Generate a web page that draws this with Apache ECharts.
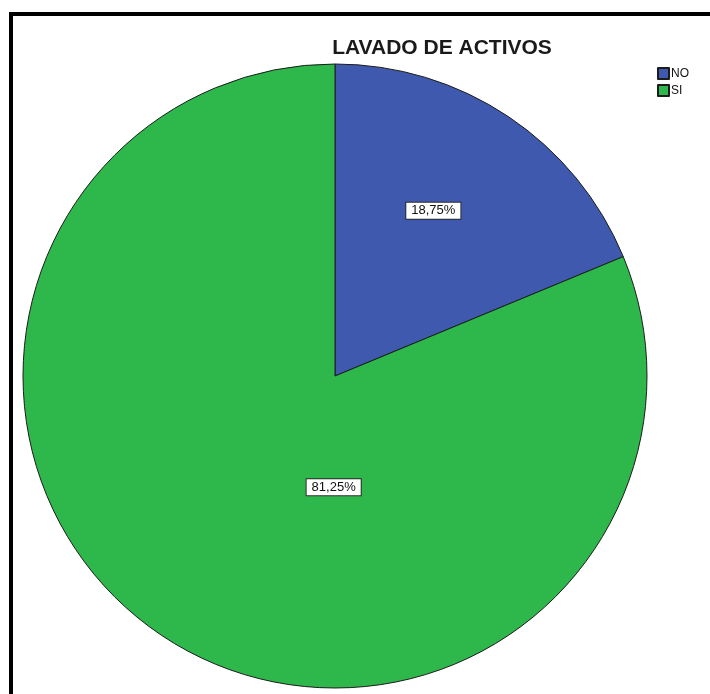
<!DOCTYPE html>
<html>
<head>
<meta charset="utf-8">
<script src="https://cdn.jsdelivr.net/npm/echarts@6/dist/echarts.min.js"></script>
<style>
  html, body { margin: 0; padding: 0; background: #fff; }
  #chart { width: 710px; height: 694px; }
</style>
</head>
<body>
<div id="chart"></div>
<script>
// Categories and their percentage shares
const categories = ['NO', 'SI'];
const shares = [18.75, 81.25];
const sliceColors = ['#3e59ad', '#2eb84b'];
// SPSS-style label placement nudges relative to the slice midpoint
const labelOffsets = [[10, -33], [87, -21]];

const fmtPct = v => v.toFixed(2).replace('.', ',') + '%';

const chart = echarts.init(document.getElementById('chart'), null, { renderer: 'canvas' });

chart.setOption({
  backgroundColor: '#ffffff',
  animation: false,
  title: {
    text: 'LAVADO DE ACTIVOS',
    left: 437,
    top: 33,
    textAlign: 'center',
    textStyle: {
      fontFamily: 'Liberation Sans, Arial, sans-serif',
      fontWeight: 'bold',
      fontSize: 21,
      color: '#1a1a1a'
    }
  },
  legend: {
    orient: 'vertical',
    left: 652,
    top: 62,
    itemWidth: 11,
    itemHeight: 11,
    itemGap: 4,
    icon: 'rect',
    selectedMode: false,
    data: categories,
    textStyle: {
      fontFamily: 'Liberation Sans, Arial, sans-serif',
      fontSize: 12,
      lineHeight: 11,
      color: '#111',
      padding: [0, 0, 0, -3]
    }
  },
  graphic: [{
    type: 'polyline',
    silent: true,
    shape: { points: [[11, 720], [11, 14], [720, 14]] },
    style: { stroke: '#000', lineWidth: 4, fill: null }
  }],
  series: [{
    type: 'pie',
    center: [335, 376],
    radius: 312,
    startAngle: 90,
    clockwise: true,
    avoidLabelOverlap: false,
    itemStyle: { borderColor: '#1c1c1c', borderWidth: 1 },
    emphasis: { disabled: true },
    label: {
      show: true,
      position: 'inside',
      formatter: p => fmtPct(p.value),
      fontFamily: 'Liberation Sans, Arial, sans-serif',
      fontSize: 13,
      lineHeight: 14,
      color: '#111',
      backgroundColor: '#ffffff',
      borderColor: '#2a2a2a',
      borderWidth: 1,
      padding: [1, 5]
    },
    labelLine: { show: false },
    data: categories.map((name, i) => ({
      name: name,
      value: shares[i],
      itemStyle: { color: sliceColors[i] },
      label: { offset: labelOffsets[i] }
    }))
  }]
});
</script>
</body>
</html>
